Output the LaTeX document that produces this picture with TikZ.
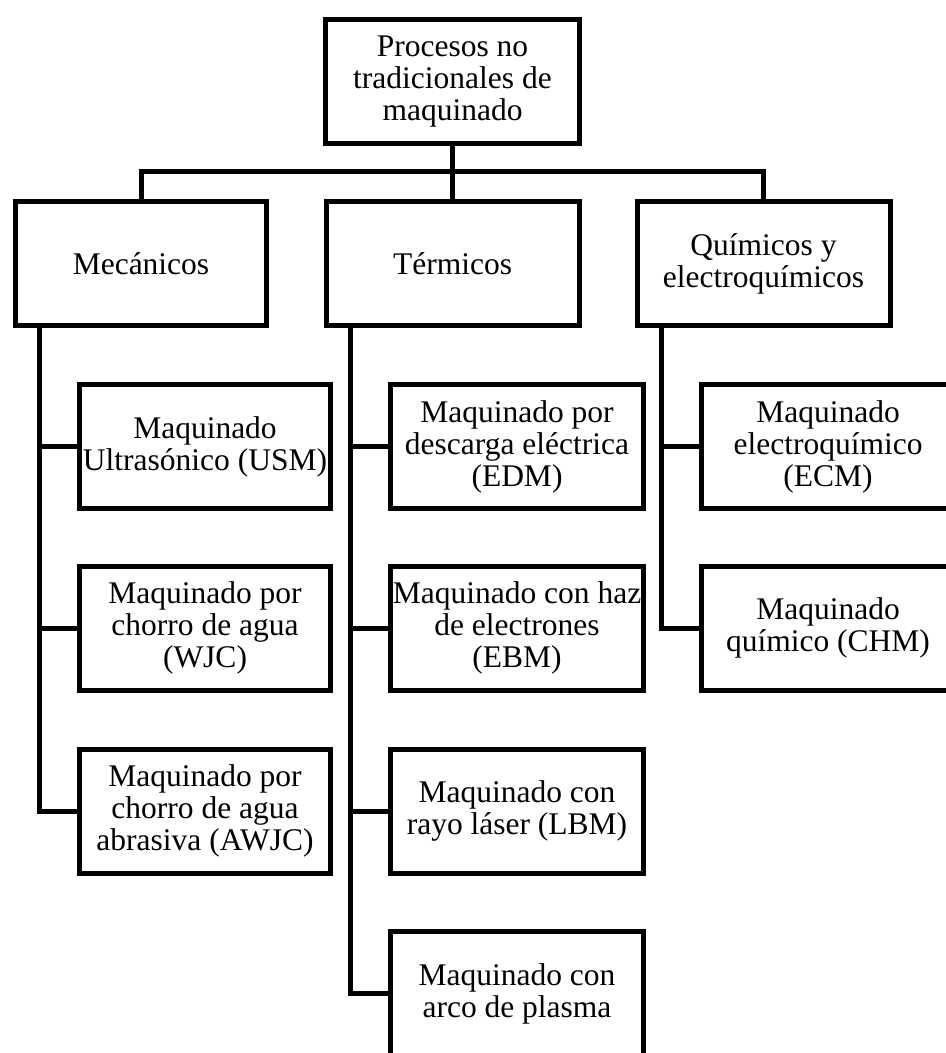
\documentclass[tikz,border=0pt]{standalone}
\usepackage{fontspec}
\setmainfont{Liberation Serif}
\begin{document}
\begin{tikzpicture}[x=0.5pt,y=-0.5pt,
  box/.style={draw, line width=2.5pt, rectangle, inner sep=0pt, align=center,
    minimum width=125.5pt, minimum height=62pt,
    font=\fontsize{15.75pt}{16pt}\selectfont},
  conn/.style={line width=2.5pt}]
\useasboundingbox (0,0) rectangle (946,1053);
\clip (0,0) rectangle (946,1053);
% level 0
\node[box, minimum width=127pt] (top) at (452.5,81.5) {Procesos no\\tradicionales de\\maquinado};
% level 1
\node[box] (mec) at (141,263.5) {Mecánicos};
\node[box, minimum width=126.5pt] (ter) at (452.5,263.5) {Térmicos};
\node[box, minimum width=126.5pt] (qui) at (763.5,263.5) {Químicos y\\electroquímicos};
% mechanical
\node[box] (usm) at (205,446.5) {Maquinado\\Ultrasónico (USM)};
\node[box] (wjc) at (205,628) {Maquinado por\\chorro de agua\\(WJC)};
\node[box] (awjc) at (205,811) {Maquinado por\\chorro de agua\\abrasiva (AWJC)};
% thermal
\node[box, minimum width=126.5pt] (edm) at (517,446.5) {Maquinado por\\descarga eléctrica\\(EDM)};
\node[box, minimum width=126.5pt] (ebm) at (517,628) {Maquinado con haz\\de electrones\\(EBM)};
\node[box, minimum width=126.5pt] (lbm) at (517,811) {Maquinado con\\rayo láser (LBM)};
\node[box, minimum width=126.5pt] (pam) at (517,993.5) {Maquinado con\\arco de plasma};
% chemical
\node[box, minimum width=126.5pt] (ecm) at (828,446.5) {Maquinado\\electroquímico\\(ECM)};
\node[box, minimum width=126.5pt] (chm) at (828,628) {Maquinado\\químico (CHM)};
% top tree
\coordinate (bar) at (452.5,172);
\draw[conn] (top.south) -- (ter.north);
\draw[conn] (mec.north) |- (bar) -| (qui.north);
% branches
\coordinate (mecl) at (39,328);
\coordinate (terl) at (350,328);
\coordinate (quil) at (661,328);
\draw[conn] (mecl) |- (usm.west);
\draw[conn] (mecl) |- (wjc.west);
\draw[conn] (mecl) |- (awjc.west);
\draw[conn] (terl) |- (edm.west);
\draw[conn] (terl) |- (ebm.west);
\draw[conn] (terl) |- (lbm.west);
\draw[conn] (terl) |- (pam.west);
\draw[conn] (quil) |- (ecm.west);
\draw[conn] (quil) |- (chm.west);
\end{tikzpicture}
\end{document}
